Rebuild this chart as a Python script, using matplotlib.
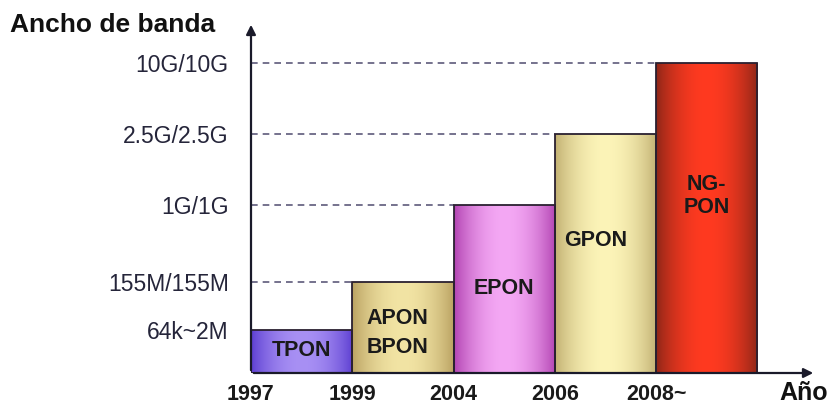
import numpy as np
import matplotlib.pyplot as plt
from matplotlib.patches import Rectangle

plt.rcParams['font.family'] = ['Liberation Sans', 'DejaVu Sans']

# --- data ---
years = ['1997', '1999', '2004', '2006', '2008~']
techs = ['TPON', 'APON\nBPON', 'EPON', 'GPON', 'NG-\nPON']
level_labels = ['64k~2M', '155M/155M', '1G/1G', '2.5G/2.5G', '10G/10G']
level_pos = [0.43, 0.91, 1.68, 2.39, 3.10]   # rough heights of each level on the axis
edge_colors = ['#5a3cd0', '#b8a060', '#b040b0', '#c0ae70', '#8a2618']
center_colors = ['#a890f4', '#f2e4a4', '#f4a8f4', '#fcf4b8', '#ff3a20']
label_y = [0.23, 0.40, 0.85, 1.33, 1.77]
label_dx = [0.0, -0.05, 0.0, -0.1, 0.0]
label_spacing = [1.1, 1.45, 1.1, 1.1, 1.1]


def hex_rgb(c):
    c = c.lstrip('#')
    return np.array([int(c[i:i + 2], 16) for i in (0, 2, 4)]) / 255.0


fig = plt.figure(figsize=(8.32, 4.07), dpi=100)
ax = fig.add_axes([251 / 832, 34 / 407, 565 / 832, 351 / 407])
XMAX, YMAX = 5.58, 3.51

t = np.linspace(0, 1, 200)
profile = np.sin(np.pi * t) ** 0.8
for i, h in enumerate(level_pos):
    e, c = hex_rgb(edge_colors[i]), hex_rgb(center_colors[i])
    img = e[None, :] + (c - e)[None, :] * profile[:, None]
    ax.imshow(img[None, :, :], extent=(i, i + 1, 0, h), aspect='auto',
              zorder=2, interpolation='bilinear')
    ax.add_patch(Rectangle((i, 0), 1, h, fill=False, ec='#2a2030', lw=1.3, zorder=3))
    ax.text(i + 0.5 + label_dx[i], label_y[i], techs[i], ha='center', va='center',
            fontsize=15.5, fontweight='bold', color='#1a1a1a', zorder=4,
            linespacing=label_spacing[i])
    if i > 0:
        ax.plot([0, i], [h, h], ls=(0, (4, 3)), color='#5e5a7a', lw=1.2, zorder=1)

ax.set_xlim(0, XMAX)
ax.set_ylim(0, YMAX)

for s in ax.spines.values():
    s.set_visible(False)
ax.annotate('', xy=(0, YMAX), xytext=(0, 0),
            arrowprops=dict(arrowstyle='-|>', color='#1a1a2a', lw=1.6, mutation_scale=14),
            annotation_clip=False, zorder=5)
ax.annotate('', xy=(XMAX, 0), xytext=(0, 0),
            arrowprops=dict(arrowstyle='-|>', color='#1a1a2a', lw=1.6, mutation_scale=14),
            annotation_clip=False, zorder=5)

ax.set_xticks(range(len(years)))
ax.set_xticklabels(years, fontsize=15.5, fontweight='bold', color='#1a1a1a')
ax.set_yticks(level_pos)
ax.set_yticklabels(level_labels, fontsize=16.5, color='#25253a')
ax.tick_params(axis='both', length=0)
ax.tick_params(axis='y', pad=16)
ax.tick_params(axis='x', pad=8)

fig.text(10 / 832, 1 - 25 / 407, 'Ancho de banda', fontsize=19, fontweight='bold',
         va='center', ha='left', color='#111111')
fig.text(779 / 832, 1 - 393 / 407, 'Año', fontsize=18, fontweight='bold',
         va='center', ha='left', color='#111111')

fig.savefig('out.png', dpi=100)
